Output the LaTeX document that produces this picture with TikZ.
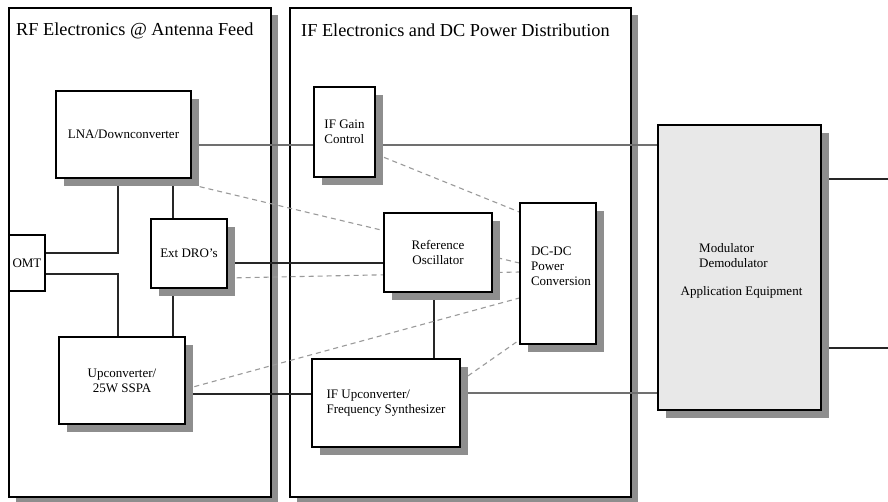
\documentclass[tikz,border=0pt]{standalone}
\usepackage{fontspec}
\setmainfont{Liberation Serif}
\usetikzlibrary{shadows,calc}
\definecolor{shadowgray}{HTML}{8E8E8E}
\definecolor{dashgray}{HTML}{9A9A9A}
\definecolor{modfill}{HTML}{E8E8E8}
\definecolor{linegray}{HTML}{707070}
\pgfdeclarelayer{bg}
\pgfdeclarelayer{mid}
\pgfsetlayers{bg,mid,main}
\begin{document}
\begin{tikzpicture}[x=1pt,y=-1pt,
  unit/.style={draw=black, line width=1.3pt, fill=white, inner sep=0pt,
    font=\fontsize{13}{15}\selectfont,
    drop shadow={shadow xshift=8pt, shadow yshift=-8pt, fill=shadowgray, opacity=1}},
  panel/.style={draw=black, line width=1.3pt, fill=white, inner sep=0pt,
    drop shadow={shadow xshift=7pt, shadow yshift=-7pt, fill=shadowgray, opacity=1}},
  plainbox/.style={draw=black, line width=1.3pt, fill=white, inner sep=0pt,
    font=\fontsize{13}{15}\selectfont},
  title/.style={font=\fontsize{18.3}{22}\selectfont, anchor=base west, inner sep=0pt},
  lbl/.style={font=\fontsize{13}{15}\selectfont, inner sep=0pt},
  wire/.style={draw=black!85, line width=1.1pt},
  wiregray/.style={draw=linegray, line width=1.1pt},
  power/.style={draw=dashgray, line width=1.1pt, dash pattern=on 5pt off 4pt}
]
\useasboundingbox (0,0) rectangle (888,501);

% panels
\begin{pgfonlayer}{bg}
  \node[panel, minimum width=262pt, minimum height=489pt] (p1) at (140,252.5) {};
  \node[panel, minimum width=341pt, minimum height=489pt] (p2) at (460.5,252.5) {};
  \node[title] (t1) at (16,35) {RF Electronics @ Antenna Feed};
  \node[title] (t2) at (301,36) {IF Electronics and DC Power Distribution};
\end{pgfonlayer}

% units
\node[unit, minimum width=135pt, minimum height=87pt] (lna) at (123.5,134.5) {LNA/Downconverter};
\node[unit, minimum width=76pt, minimum height=69pt] (dro) at (189,253.5) {Ext DRO's};
\node[plainbox, minimum width=36pt, minimum height=56pt] (omt) at (27,263) {OMT};
\node[unit, minimum width=126pt, minimum height=87pt, align=center] (up) at (122,380.5) {Upconverter/\\25W SSPA};
\node[unit, minimum width=61pt, minimum height=90pt, align=left] (ifgain) at (344.5,132) {IF Gain\\Control};
\node[unit, minimum width=108pt, minimum height=79pt, align=center] (ref) at (438,252.5) {Reference\\Oscillator};
\node[unit, minimum width=76pt, minimum height=141pt] (dcdc) at (558,273.5) {};
\node[lbl, align=left] (dcdct) at (561,266) {DC-DC\\Power\\Conversion};
\node[unit, minimum width=148pt, minimum height=88pt, align=left] (ifup) at (386,403) {IF Upconverter/\\Frequency Synthesizer};
\node[unit, fill=modfill, minimum width=163pt, minimum height=285pt] (mod) at (739.5,267.5) {};
\node[lbl, align=left, anchor=west] (modt) at (699,256) {Modulator\\Demodulator};
\node[lbl] (appt) at (741.5,292) {Application Equipment};

% helper coordinates
\coordinate (h145) at (0,145);
\coordinate (h253) at (0,253);
\coordinate (h274) at (0,274);
\coordinate (h263) at (0,263);
\coordinate (h394) at (0,394);
\coordinate (h393) at (0,393);
\coordinate (h179) at (0,179);
\coordinate (h348) at (0,348);
\coordinate (v118) at (118,0);
\coordinate (v173) at (173,0);
\coordinate (v434) at (434,0);
\coordinate (outA) at (888,179);
\coordinate (outB) at (888,348);
\coordinate (h278) at (0,278);
\coordinate (h272) at (0,272);
\coordinate (h154) at (0,154);
\coordinate (h212) at (0,212);
\coordinate (h389) at (0,389);
\coordinate (h298) at (0,298);
\coordinate (h381) at (0,381);
\coordinate (h340) at (0,340);

\begin{pgfonlayer}{mid}
  % solid signal lines
  \draw[wire] (omt.east |- h253) -| (v118 |- lna.south);
  \draw[wire] (omt.east |- h274) -| (v118 |- up.north);
  \draw[wire] (v173 |- lna.south) -- (v173 |- dro.north);
  \draw[wire] (v173 |- dro.south) -- (v173 |- up.north);
  \draw[wire] (dro.east |- h263) -- (ref.west |- h263);
  \draw[wire] (v434 |- ref.south) -- (v434 |- ifup.north);
  \draw[wire] (up.east |- h394) -- (ifup.west |- h394);
  \draw[wiregray] (ifup.east |- h393) -- (mod.west |- h393);
  \draw[wiregray] (lna.east |- h145) -- (ifgain.west |- h145);
  \draw[wiregray] (ifgain.east |- h145) -- (mod.west |- h145);
  \draw[wire] (mod.east |- h179) -- (outA);
  \draw[wire] (mod.east |- h348) -- (outB);
  % dashed power lines
  \draw[power] ($(lna.south east)+(8,8)$) -- (dcdc.west |- h263);
  \draw[power] (dro.east |- h278) -- (dcdc.west |- h272);
  \draw[power] (ifgain.east |- h154) -- (dcdc.west |- h212);
  \draw[power] (up.east |- h389) -- (dcdc.west |- h298);
  \draw[power] (ifup.east |- h381) -- (dcdc.west |- h340);
\end{pgfonlayer}
\end{tikzpicture}
\end{document}
